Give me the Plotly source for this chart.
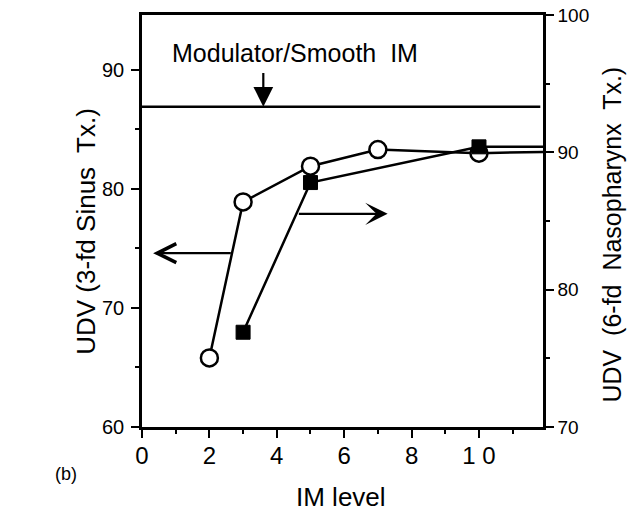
import plotly.graph_objects as go

# ---- data ----
im_level_sinus = [2, 3, 5, 7, 10, 12]
udv_sinus = [65.8, 78.9, 81.9, 83.3, 83.0, 83.1]          # left axis (open circles)
im_level_naso = [3, 5, 10, 12]
udv_naso = [76.9, 87.8, 90.4, 90.4]                        # right axis (filled squares)
smooth_im_x = [0, 11.82]
smooth_im_udv = [86.9, 86.9]                               # Modulator/Smooth IM reference level

x_ticks = [0, 2, 4, 6, 8, 10]
x_tick_text = ["0", "2", "4", "6", "8", "1 0"]
left_ticks = [60, 70, 80, 90]
right_ticks = [70, 80, 90, 100]

FONT = "Liberation Sans, Arial, Helvetica, sans-serif"
LW = 2.5

fig = go.Figure()

fig.add_trace(go.Scatter(
    x=smooth_im_x, y=smooth_im_udv, mode="lines",
    line=dict(color="black", width=LW), showlegend=False, hoverinfo="skip"))

fig.add_trace(go.Scatter(
    x=im_level_sinus, y=udv_sinus, mode="lines+markers",
    line=dict(color="black", width=LW),
    marker=dict(symbol="circle", size=[17, 17, 17, 17, 17, 0], color="white",
                opacity=1, line=dict(color="black", width=2.5)),
    showlegend=False))

fig.add_trace(go.Scatter(
    x=im_level_naso, y=udv_naso, mode="lines+markers", yaxis="y2",
    line=dict(color="black", width=LW),
    marker=dict(symbol="square", size=[14, 14, 14, 0], color="black",
                opacity=1, line=dict(color="black", width=1)),
    showlegend=False))

axis_common = dict(showline=True, linecolor="black", linewidth=2.5,
                   ticks="outside", tickcolor="black", tickwidth=2, ticklen=8,
                   showgrid=False, zeroline=False, automargin=False)

fig.update_layout(
    template="none",
    width=633, height=514,
    margin=dict(l=142, r=90, t=15, b=87, pad=0),
    paper_bgcolor="white", plot_bgcolor="white",
    font=dict(family=FONT, color="black"),
    xaxis=dict(range=[0, 11.9], tickvals=x_ticks, ticktext=x_tick_text,
               mirror=True, tickfont=dict(size=24), ticklabelstandoff=-3,
               minor=dict(dtick=1, tick0=0, ticks="outside", ticklen=4,
                          tickcolor="black", tickwidth=2),
               **axis_common),
    yaxis=dict(range=[60, 94.6], tickvals=left_ticks, tickfont=dict(size=20),
               ticklabelstandoff=3,
               minor=dict(dtick=5, tick0=60, ticks="outside", ticklen=4,
                          tickcolor="black", tickwidth=2),
               **axis_common),
    yaxis2=dict(range=[70, 100], tickvals=right_ticks, overlaying="y", side="right",
                tickfont=dict(size=19),
                minor=dict(dtick=5, tick0=70, ticks="outside", ticklen=4,
                           tickcolor="black", tickwidth=2),
                **axis_common),
)

annotations = [
    dict(text="Modulator/Smooth  IM", x=4.55, y=91.45, xref="x", yref="y",
         showarrow=False, font=dict(size=25)),
    # down arrow to the smooth IM line
    dict(text="", x=3.6, y=86.9, ax=3.6, ay=89.85, xref="x", yref="y",
         axref="x", ayref="y", showarrow=True, arrowhead=2, arrowsize=1.8,
         arrowwidth=2.2, arrowcolor="black", standoff=0, startstandoff=0),
    # left arrow (open head) -> left axis
    dict(text="", x=0.33, y=74.6, ax=2.68, ay=74.6, xref="x", yref="y",
         axref="x", ayref="y", showarrow=True, arrowhead=5, arrowsize=1.7,
         arrowwidth=2.2, arrowcolor="black", standoff=0, startstandoff=0),
    # right arrow (filled head) -> right axis
    dict(text="", x=7.29, y=77.9, ax=4.61, ay=77.9, xref="x", yref="y",
         axref="x", ayref="y", showarrow=True, arrowhead=3, arrowsize=1.7,
         arrowwidth=2.2, arrowcolor="black", standoff=0, startstandoff=0),
    # axis titles
    dict(text="UDV (3-fd Sinus  Tx.)", x=-0.14, y=0.476, xref="paper", yref="paper",
         textangle=-90, showarrow=False, font=dict(size=26),
         xanchor="center", yanchor="middle"),
    dict(text="UDV  (6-fd  Nasopharynx  Tx.)", x=1.172, y=0.467, xref="paper", yref="paper",
         textangle=-90, showarrow=False, font=dict(size=25),
         xanchor="center", yanchor="middle"),
    dict(text="IM level", x=0.496, y=-0.171, xref="paper", yref="paper",
         showarrow=False, font=dict(size=26), xanchor="center", yanchor="middle"),
    dict(text="(b)", x=-0.19, y=-0.115, xref="paper", yref="paper",
         showarrow=False, font=dict(size=18), xanchor="center", yanchor="middle"),
]
fig.update_layout(annotations=annotations)

fig.write_html("out.html")
